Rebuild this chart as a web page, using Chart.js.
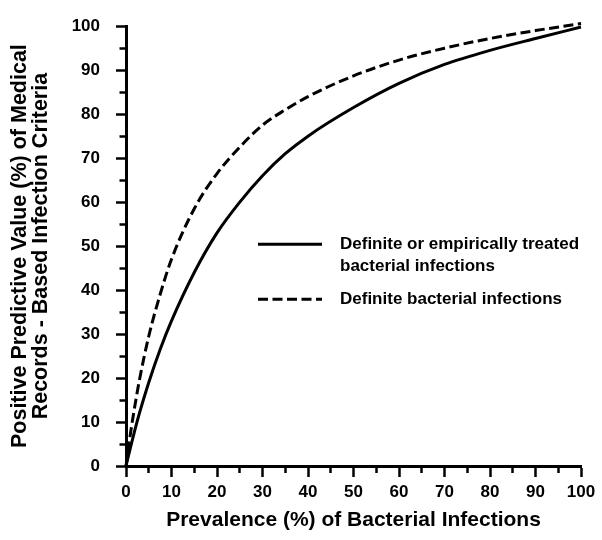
<!DOCTYPE html>
<html>
<head>
<meta charset="utf-8">
<script src="https://cdn.jsdelivr.net/npm/chart.js@4.4.1/dist/chart.umd.min.js"></script>
<style>
    html, body { margin: 0; padding: 0; background: #ffffff; }
    canvas { display: block; }
</style>
</head>
<body>
<canvas id="ppv_chart" width="602" height="540"></canvas>
<script>
// values
const prevalence_pct = [0, 1, 2, 3, 5, 7.5, 10, 15, 20, 25, 30, 35, 40, 50, 60, 70, 80, 90, 100];
const ppv_definite_or_empiric = [0, 4.3, 8.4, 12.2, 19, 26.5, 33, 44, 53, 60, 66, 71, 75, 81.5, 87, 91.3, 94.5, 97.2, 99.8];
const ppv_definite = [0, 7.5, 14, 19.8, 29.5, 39, 47, 58.5, 66.5, 72.5, 77.5, 81, 84, 88.7, 92.3, 95, 97.2, 99, 100.6];

const series_names = [
    'Definite or empirically treated\nbacterial infections',
    'Definite bacterial infections',
];
const x_axis_title = 'Prevalence (%) of Bacterial Infections';
const y_axis_title = ['Positive Predictive Value (%) of Medical', 'Records - Based Infection Criteria'];

const ppv_palette = {
    ink: '#000000',
    paper: '#ffffff',
};

const font_family = '"Liberation Sans", Arial, Helvetica, sans-serif';

function ppv_points(values) {
    return prevalence_pct.map(function (x, idx) {
        return { x: x, y: values[idx] };
    });
}

function ppv_is_major(value) {
    return Math.round(value) % 10 === 0;
}

// legend drawn inside the plot, like the figure
const inner_legend = {
    id: 'inner_legend',
    afterDraw(chart, args, opts) {
        const ctx = chart.ctx;
        const area = chart.chartArea;
        const x0 = area.left + opts.left;
        let y = area.top + opts.top;

        chart.data.datasets.forEach(function (ds) {
            const lines = String(ds.label).split('\n');

            ctx.save();
            ctx.strokeStyle = ds.borderColor;
            ctx.lineWidth = opts.sample_line_width;
            ctx.setLineDash(ds.borderDash || []);
            ctx.beginPath();
            ctx.moveTo(x0, y);
            ctx.lineTo(x0 + opts.sample_width, y);
            ctx.stroke();
            ctx.setLineDash([]);

            ctx.fillStyle = ppv_palette.ink;
            ctx.font = 'bold ' + opts.font_size + 'px ' + font_family;
            ctx.textBaseline = 'middle';
            ctx.textAlign = 'left';
            lines.forEach(function (line, idx) {
                ctx.fillText(line, x0 + opts.sample_width + opts.text_gap, y + idx * opts.line_height);
            });
            ctx.restore();

            y += lines.length * opts.line_height + opts.item_gap;
        });
    },
};

function ppv_axis(title, title_padding, label_padding, tick_length, minor_dash) {
    return {
        type: 'linear',
        min: 0,
        max: 100,
        border: { display: true, color: ppv_palette.ink, width: 3 },
        grid: {
            drawOnChartArea: false,
            drawTicks: true,
            tickLength: tick_length,
            tickColor: ppv_palette.ink,
            tickWidth: 2.5,
            tickBorderDash: function (c) {
                return ppv_is_major(c.tick.value) ? [] : minor_dash;
            },
        },
        ticks: {
            stepSize: 5,
            autoSkip: false,
            maxRotation: 0,
            padding: label_padding,
            color: ppv_palette.ink,
            font: { family: font_family, size: 17, weight: 'bold' },
            callback: function (value) {
                return ppv_is_major(value) ? String(value) : '';
            },
        },
        title: {
            display: true,
            text: title,
            color: ppv_palette.ink,
            padding: title_padding,
        },
    };
}

function build_ppv_chart() {
    const x_axis = ppv_axis(x_axis_title, { top: 0, bottom: 7 }, 5, 11, [5, 100]);
    x_axis.title.font = { family: font_family, size: 21, weight: 'bold', lineHeight: 1.2 };
    x_axis.afterFit = function (scale) { scale.height = 74; };

    const y_axis = ppv_axis(y_axis_title, { top: 9, bottom: 0 }, 16, 10, [0, 3.5, 10, 100]);
    y_axis.title.font = { family: font_family, size: 21.5, weight: 'bold', lineHeight: 1.0 };
    y_axis.afterFit = function (scale) { scale.width = 126; };

    return new Chart(document.getElementById('ppv_chart').getContext('2d'), {
        type: 'line',
        data: {
            datasets: [
                {
                    label: series_names[0],
                    data: ppv_points(ppv_definite_or_empiric),
                    borderColor: ppv_palette.ink,
                    borderWidth: 3,
                    borderDash: [],
                    pointRadius: 0,
                    fill: false,
                    cubicInterpolationMode: 'monotone',
                    clip: false,
                },
                {
                    label: series_names[1],
                    data: ppv_points(ppv_definite),
                    borderColor: ppv_palette.ink,
                    borderWidth: 3,
                    borderDash: [10, 4.5],
                    pointRadius: 0,
                    fill: false,
                    cubicInterpolationMode: 'monotone',
                    clip: false,
                },
            ],
        },
        options: {
            responsive: false,
            animation: false,
            devicePixelRatio: 1,
            layout: { padding: { top: 16, right: 21, bottom: 0, left: 0 } },
            plugins: {
                legend: { display: false },
                tooltip: { enabled: false },
                inner_legend: {
                    left: 132,
                    top: 218,
                    sample_width: 64,
                    sample_line_width: 3,
                    text_gap: 18,
                    line_height: 22,
                    item_gap: 11,
                    font_size: 17,
                },
            },
            scales: {
                x: x_axis,
                y: y_axis,
            },
        },
        plugins: [inner_legend],
    });
}

build_ppv_chart();
</script>
</body>
</html>
